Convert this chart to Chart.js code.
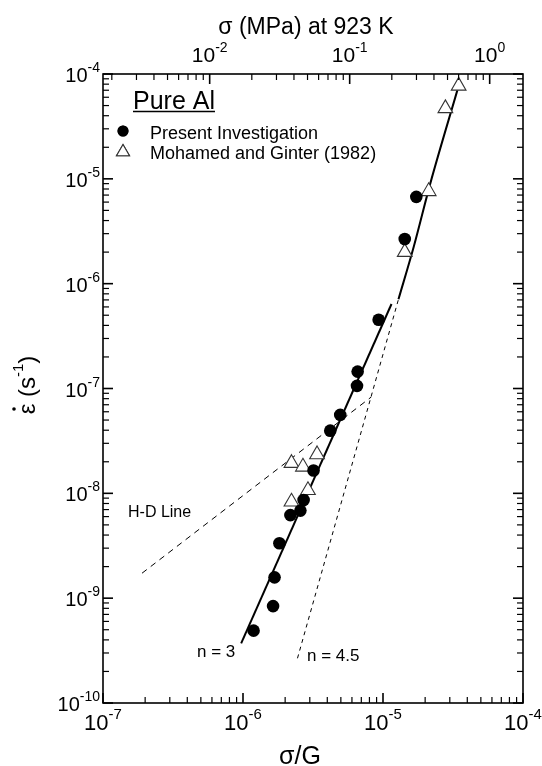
<!DOCTYPE html>
<html>
<head>
<meta charset="utf-8">
<script src="https://cdn.jsdelivr.net/npm/chart.js@4.4.0/dist/chart.umd.min.js"></script>
<style>
  html, body { margin: 0; padding: 0; background: #fff; }
</style>
</head>
<body>
<canvas id="chart1" width="542" height="766"></canvas>
<script>
// --- data: normalized stress sigma/G vs creep rate (s^-1), pure Al ---
const presentX = [1.19e-6, 1.64e-6, 1.68e-6, 1.82e-6, 2.18e-6, 2.57e-6, 2.71e-6, 3.19e-6,
                  4.2e-6, 4.95e-6, 6.52e-6, 6.59e-6, 9.31e-6, 1.43e-5, 1.73e-5];
const presentY = [4.9e-10, 8.4e-10, 1.58e-9, 3.34e-9, 6.2e-9, 6.84e-9, 8.65e-9, 1.65e-8,
                  3.96e-8, 5.6e-8, 1.06e-7, 1.45e-7, 4.52e-7, 2.67e-6, 6.73e-6];

const mgX = [2.22e-6, 2.91e-6, 2.22e-6, 2.68e-6, 3.38e-6, 1.43e-5, 2.12e-5, 2.79e-5, 3.47e-5];
const mgY = [8.3e-9, 1.07e-8, 1.94e-8, 1.79e-8, 2.35e-8, 2.0e-6, 7.6e-6, 4.7e-5, 7.7e-5];

// fitted lines
const n3X = [9.7e-7, 1.15e-5];
const n3Y = [3.7e-10, 6.4e-7];
const n45X = [2.45e-6, 1.29e-5];
const n45Y = [2.67e-10, 7.1e-7];
const hdX = [1.9e-7, 8.25e-6];
const hdY = [1.73e-9, 8.3e-8];
const highX = [1.29e-5, 1.66e-5, 2.18e-5, 3.47e-5];
const highY = [7.1e-7, 2.26e-6, 9.1e-6, 7.7e-5];

// axes
const xExp = [-7, -6, -5, -4];
const yExp = [-10, -9, -8, -7, -6, -5, -4];
const topExp = [-2, -1, 0];
const shearG = 17300; // MPa at 923 K

const FONT = '"Liberation Sans", Arial, sans-serif';

function pts(xs, ys) {
    return xs.map((x, i) => ({ x: x, y: ys[i] }));
}

function logTicks(min, max) {
    const out = [];
    for (let d = Math.floor(Math.log10(min)); d <= Math.ceil(Math.log10(max)); d++) {
        for (let m = 1; m <= 9; m++) {
            const v = m * Math.pow(10, d);
            if (v >= min * 0.999 && v <= max * 1.001) out.push({ v: v, major: m === 1 });
        }
    }
    return out;
}

// "10" with a raised exponent
function powLabel(ctx, exp, x, y, align, size) {
    const sup = String(exp);
    const supSize = Math.round(size * 0.68);
    ctx.font = size + 'px ' + FONT;
    const wb = ctx.measureText('10').width;
    ctx.font = supSize + 'px ' + FONT;
    const ws = ctx.measureText(sup).width;
    let x0 = x;
    if (align === 'right') x0 = x - wb - ws;
    else if (align === 'center') x0 = x - (wb + ws) / 2;
    ctx.textAlign = 'left';
    ctx.textBaseline = 'alphabetic';
    ctx.font = size + 'px ' + FONT;
    ctx.fillText('10', x0, y);
    ctx.font = supSize + 'px ' + FONT;
    ctx.fillText(sup, x0 + wb, y - size * 0.5);
}

const framePlugin = {
    id: 'frame',
    afterDraw(chart) {
        const { ctx, chartArea: a, scales } = chart;
        ctx.save();
        ctx.strokeStyle = '#000';
        ctx.fillStyle = '#000';

        // inward ticks
        const tick = (x1, y1, x2, y2, major) => {
            ctx.lineWidth = major ? 1.6 : 1.2;
            ctx.beginPath();
            ctx.moveTo(x1, y1);
            ctx.lineTo(x2, y2);
            ctx.stroke();
        };
        logTicks(scales.x.min, scales.x.max).forEach(t => {
            const px = scales.x.getPixelForValue(t.v);
            tick(px, a.bottom, px, a.bottom - (t.major ? 10 : 6), t.major);
        });
        logTicks(scales.x2.min, scales.x2.max).forEach(t => {
            const px = scales.x2.getPixelForValue(t.v);
            tick(px, a.top, px, a.top + (t.major ? 10 : 6), t.major);
        });
        logTicks(scales.y.min, scales.y.max).forEach(t => {
            const py = scales.y.getPixelForValue(t.v);
            tick(a.left, py, a.left + (t.major ? 10 : 6), py, t.major);
            tick(a.right, py, a.right - (t.major ? 10 : 6), py, t.major);
        });

        ctx.lineWidth = 1.6;
        ctx.strokeRect(a.left, a.top, a.right - a.left, a.bottom - a.top);

        // tick labels
        xExp.forEach(e => powLabel(ctx, e, scales.x.getPixelForValue(Math.pow(10, e)), a.bottom + 27, 'center', 22));
        topExp.forEach(e => powLabel(ctx, e, scales.x2.getPixelForValue(Math.pow(10, e)), a.top - 12, 'center', 21));
        yExp.forEach(e => powLabel(ctx, e, a.left - 3, scales.y.getPixelForValue(Math.pow(10, e)) + 8, 'right', 20));

        // axis titles
        ctx.textAlign = 'center';
        ctx.textBaseline = 'alphabetic';
        ctx.font = '25px ' + FONT;
        ctx.fillText('σ/G', 300, 764);
        ctx.font = '23px ' + FONT;
        ctx.fillText('σ (MPa) at 923 K', 306, 34);

        // rate axis title, rotated
        ctx.save();
        ctx.translate(35, 385);
        ctx.rotate(-Math.PI / 2);
        ctx.textAlign = 'left';
        const parts = [['ε', 24, 0], [' (s', 24, 0], ['-1', 15, -12], [')', 24, 0]];
        let total = 0;
        parts.forEach(p => { ctx.font = p[1] + 'px ' + FONT; total += ctx.measureText(p[0]).width; });
        let t = -total / 2;
        parts.forEach((p, i) => {
            ctx.font = p[1] + 'px ' + FONT;
            ctx.fillText(p[0], t, p[2]);
            const w = ctx.measureText(p[0]).width;
            if (i === 0) {
                ctx.beginPath();
                ctx.arc(t + w / 2, -21, 1.8, 0, Math.PI * 2);
                ctx.fill();
            }
            t += w;
        });
        ctx.restore();

        // annotations
        ctx.textAlign = 'left';
        ctx.font = '17px ' + FONT;
        ctx.fillText('n = 3', 197, 657);
        ctx.fillText('n = 4.5', 307, 661);
        ctx.font = '16px ' + FONT;
        ctx.fillText('H-D Line', 128, 517);

        // legend
        ctx.font = '25px ' + FONT;
        ctx.fillText('Pure Al', 133, 109);
        const wTitle = ctx.measureText('Pure Al').width;
        ctx.lineWidth = 1.5;
        ctx.beginPath();
        ctx.moveTo(133, 111.5);
        ctx.lineTo(133 + wTitle, 111.5);
        ctx.stroke();

        ctx.font = '18px ' + FONT;
        ctx.fillText('Present Investigation', 150, 139);
        ctx.fillText('Mohamed and Ginter (1982)', 150, 159);
        Chart.helpers.drawPoint(ctx, { pointStyle: 'circle', radius: 5.5, borderWidth: 0 }, 123, 131);
        ctx.fill();
        ctx.fillStyle = '#fff';
        ctx.strokeStyle = '#333';
        ctx.lineWidth = 1.1;
        Chart.helpers.drawPoint(ctx, { pointStyle: 'triangle', radius: 7.5, borderWidth: 1.1 }, 123, 152);
        ctx.fill();
        ctx.stroke();

        ctx.restore();
    }
};

const ctx1 = document.getElementById('chart1').getContext('2d');

const data1 = {
    datasets: [
        {
            label: 'Present Investigation',
            data: pts(presentX, presentY),
            pointStyle: 'circle',
            pointRadius: 6.3,
            backgroundColor: '#000',
            borderColor: '#000',
            borderWidth: 0,
            showLine: false,
            clip: false
        },
        {
            label: 'Mohamed and Ginter (1982)',
            data: pts(mgX, mgY),
            pointStyle: 'triangle',
            pointRadius: 8.5,
            backgroundColor: '#fff',
            borderColor: '#333',
            borderWidth: 1.1,
            showLine: false,
            clip: false
        },
        {
            label: 'n = 3',
            data: pts(n3X, n3Y),
            showLine: true,
            borderColor: '#000',
            borderWidth: 2,
            pointRadius: 0
        },
        {
            label: 'n = 4.5',
            data: pts(n45X, n45Y),
            showLine: true,
            borderColor: '#000',
            borderWidth: 1,
            borderDash: [4, 4],
            pointRadius: 0
        },
        {
            label: 'H-D Line',
            data: pts(hdX, hdY),
            showLine: true,
            borderColor: '#000',
            borderWidth: 1,
            borderDash: [6, 5],
            pointRadius: 0
        },
        {
            label: 'high stress',
            data: pts(highX, highY),
            showLine: true,
            borderColor: '#000',
            borderWidth: 2,
            pointRadius: 0,
            tension: 0.3,
            cubicInterpolationMode: 'monotone'
        }
    ]
};

const config1 = {
    type: 'scatter',
    data: data1,
    options: {
        animation: false,
        responsive: false,
        devicePixelRatio: 1,
        layout: { padding: { left: 103, right: 19, top: 74, bottom: 63 } },
        plugins: { legend: { display: false }, tooltip: { enabled: false } },
        scales: {
            x: { type: 'logarithmic', position: 'bottom', min: 1e-7, max: 1e-4, display: false },
            x2: { type: 'logarithmic', position: 'top', min: 1e-7 * shearG, max: 1e-4 * shearG, display: false },
            y: { type: 'logarithmic', min: 1e-10, max: 1e-4, display: false }
        }
    },
    plugins: [framePlugin]
};

const chart1 = new Chart(ctx1, config1);
</script>
</body>
</html>
